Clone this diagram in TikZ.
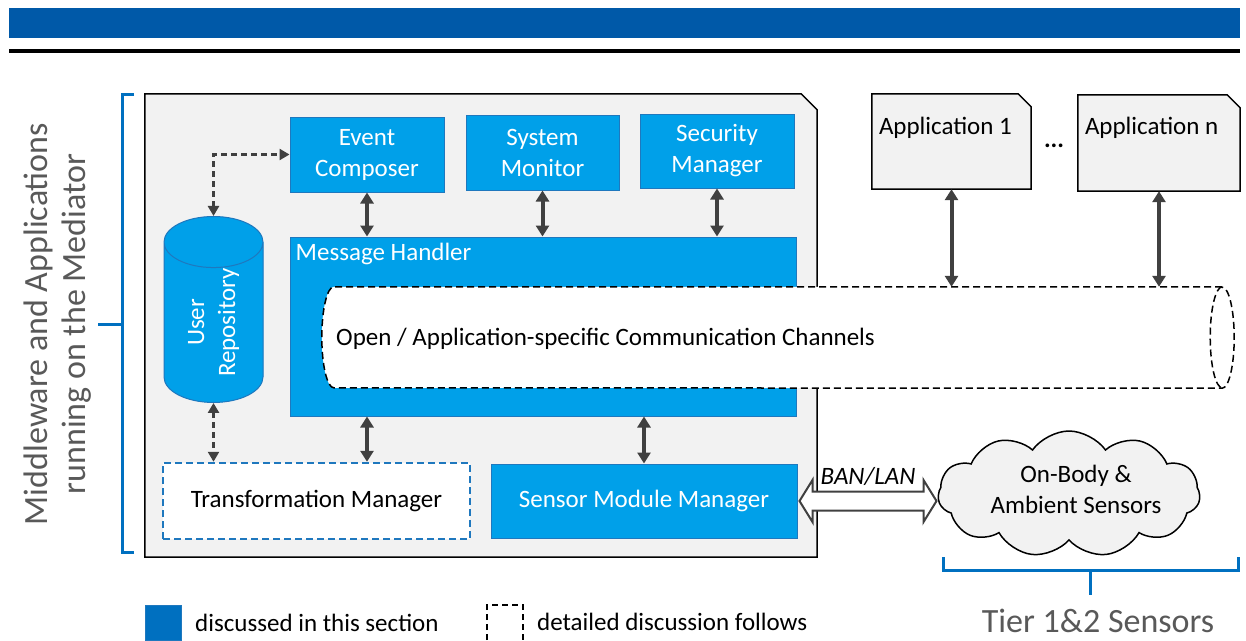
\documentclass[tikz,border=0pt]{standalone}
\usepackage{fontspec}
\setmainfont{Carlito}
\usetikzlibrary{calc,arrows.meta,shapes.geometric,shapes.symbols}
\definecolor{barblue}{RGB}{0,89,168}
\definecolor{boxblue}{RGB}{0,160,233}
\definecolor{edgeblue}{RGB}{31,120,190}
\definecolor{darkblue}{RGB}{0,112,192}
\definecolor{topblue}{RGB}{102,196,245}
\definecolor{panel}{RGB}{242,242,242}
\definecolor{arrowgray}{RGB}{64,64,64}
\definecolor{textgray}{RGB}{89,89,89}
\def\boxfont{\fontsize{25}{31}\selectfont}
\def\bigfont{\fontsize{34}{38}\selectfont}
\def\snipbox[#1](#2)(#3){\draw[#1] (#2.south west) -- (#2.north west) -- ($(#2.north east)+(-#3,0)$) -- ($(#2.north east)+(0,#3)$) -- (#2.south east) -- cycle;}

\begin{document}
\begin{tikzpicture}[x=1pt, y=-1pt,
	blockbox/.style={draw=edgeblue, line width=1pt, fill=boxblue, text=white, font=\boxfont, align=center, inner sep=0pt},
	plainbox/.style={inner sep=0pt},
	snipline/.style={draw=black, line width=1.5pt, fill=panel},
	pipeline/.style={draw=black, line width=1.5pt, dash pattern=on 7pt off 4pt},
	duplex/.style={arrowgray, line width=4pt, {Triangle[width=13pt,length=11pt]}-{Triangle[width=13pt,length=11pt]}},
	dashduplex/.style={arrowgray, line width=2.5pt, dash pattern=on 6pt off 4pt, {Triangle[width=11pt,length=10pt]}-{Triangle[width=11pt,length=10pt]}},
	brace/.style={darkblue, line width=3pt}]
			%%%%% START %%%%%
			\useasboundingbox (0,0) rectangle (1246,640);
			
			\fill[barblue] (9,8) rectangle (1240,38);
			\fill[black] (9,49) rectangle (1240,53);
			
			% mediator
			\node[plainbox, minimum width=672pt, minimum height=463pt] (mediator) at (481,325.5) {};
			\snipbox[snipline](mediator)(16);
			
			\node[blockbox, minimum width=154pt, minimum height=75pt] (ec) at (367,154.5) {Event\\Composer};
			\node[blockbox, minimum width=153pt, minimum height=75pt] (sm) at (542.5,152.5) {System\\Monitor};
			\node[blockbox, minimum width=154pt, minimum height=74pt] (secm) at (717,151) {Security\\Manager};
			
			\node[blockbox, minimum width=506pt, minimum height=179pt] (mh) at (543,326.5) {};
			\node[anchor=north west, text=white, font=\boxfont, inner xsep=6pt, inner ysep=6pt] (mhlabel) at (mh.north west) {Message Handler};
			
			\node[blockbox, shape=cylinder, rotate=90, aspect=1, minimum width=99pt, minimum height=175pt, cylinder uses custom fill, cylinder body fill=boxblue, cylinder end fill=topblue] (repo) at (213.5,322.5) {User\\Repository};
			
			\node[draw=edgeblue, line width=2.5pt, dash pattern=on 7pt off 4pt, fill=white, font=\boxfont, minimum width=307pt, minimum height=76pt] (tm) at (316.5,501) {Transformation Manager};
			\node[blockbox, minimum width=306pt, minimum height=74pt] (smm) at (644,501) {Sensor Module Manager};
			
			% channels
			\node[plainbox, minimum width=912pt, minimum height=101pt] (pipe) at (778,337.5) {};
			\draw[pipeline, fill=white] ($(pipe.north east)+(-12,0)$) -- ($(pipe.north west)+(12,0)$) arc[start angle=-90, end angle=-270, x radius=12, y radius=50.5] -- ($(pipe.south east)+(-12,0)$) arc[start angle=90, end angle=-90, x radius=12, y radius=50.5];
			\draw[pipeline] ($(pipe.north east)+(-12,0)$) arc[start angle=-90, end angle=-270, x radius=12, y radius=50.5];
			\node[anchor=west, font=\boxfont, inner sep=0pt] (chan) at (336,339) {Open / Application-specific Communication Channels};
			
			% applications
			\node[plainbox, minimum width=159pt, minimum height=95pt] (app1) at (951.5,141.5) {};
			\snipbox[snipline](app1)(13);
			\node[anchor=west, font=\boxfont, inner sep=0pt] (app1label) at ($(app1.north west)+(7,34)$) {Application 1};
			\node[plainbox, minimum width=162pt, minimum height=96pt] (appn) at (1159,143) {};
			\snipbox[snipline](appn)(13);
			\node[anchor=west, font=\boxfont, inner sep=0pt] (appnlabel) at ($(appn.north west)+(7,33)$) {Application n};
			\node[font=\boxfont\bfseries] (dots) at (1054,146) {...};
			
			\draw[duplex] (app1.south) -- (app1.south |- pipe.north);
			\draw[duplex] (appn.south) -- (appn.south |- pipe.north);
			
			\draw[duplex] (ec.south) -- (ec.south |- mh.north);
			\draw[duplex] (sm.south) -- (sm.south |- mh.north);
			\draw[duplex] (secm.south) -- (secm.south |- mh.north);
			\draw[duplex] (ec.south |- mh.south) -- (ec.south |- tm.north);
			\draw[duplex] (smm.north |- mh.south) -- (smm.north);
			
			\draw[dashduplex] (repo.east) |- (ec.west);
			\draw[dashduplex] (repo.west) -- (repo.west |- tm.north);
			
			% sensors
			\node[cloud, cloud puffs=11, cloud puff arc=110, aspect=2.0, draw=black, line width=1.5pt, fill=panel, minimum width=262pt, minimum height=126pt, inner sep=0pt] (cloud) at (1069,494) {};
			\node[font=\boxfont, align=center, inner sep=0pt] (cloudtext) at (1076,489) {On-Body \&\\Ambient Sensors};
			
			\draw[arrowgray, line width=2pt, fill=white] ($(smm.east)+(2,0)$) -- ++(13,-21) -- ++(0,11.5) -- ++(111,0) -- ++(0,-11.5) -- ++(13,21) -- ++(-13,21) -- ++(0,-11.5) -- ++(-111,0) -- ++(0,11.5) -- cycle;
			\node[font=\boxfont\itshape, inner sep=0pt] (ban) at (868,476) {BAN/LAN};
			
			\draw[brace] (943,557) -- (943,570) -- (1238,570) -- (1238,557);
			\draw[brace] (1090,570) -- (1090,595);
			\node[text=textgray, font=\bigfont] (tier) at (1098,621) {Tier 1\&2 Sensors};
			
			\draw[brace] (134,94) -- (122,94) -- (122,552) -- (134,552);
			\draw[brace] (122,324) -- (98,324);
			\node[rotate=90, text=textgray, font=\bigfont, align=center] (side) at (58,324) {Middleware and Applications\\running on the Mediator};
			
			% legend
			\draw[edgeblue, line width=1pt, fill=darkblue] (145,605) rectangle (181,640);
			\node[anchor=west, font=\boxfont, inner sep=0pt] (leg1) at (195,623) {discussed in this section};
			\draw[black, line width=1.5pt, dash pattern=on 6pt off 4pt] (487,640) -- (487,605) -- (523,605) -- (523,640);
			\node[anchor=west, font=\boxfont, inner sep=0pt] (leg2) at (537,622) {detailed discussion follows};
			
			%%%%% END %%%%%
\end{tikzpicture}
\end{document}
